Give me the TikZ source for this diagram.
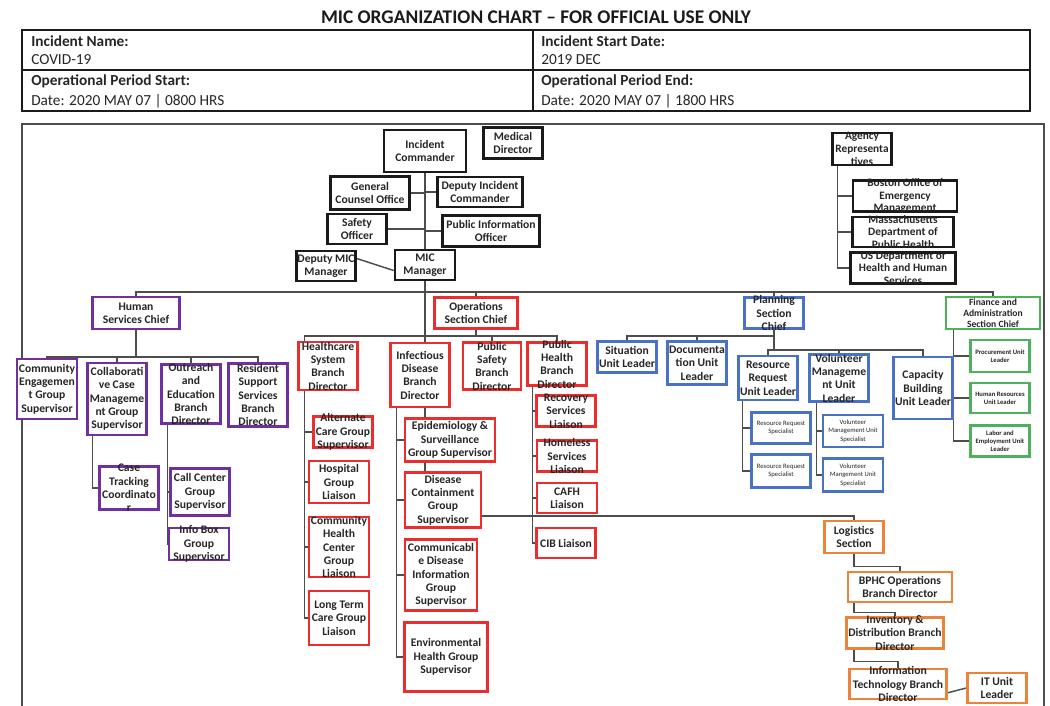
\documentclass[tikz,border=0pt]{standalone}
\usepackage{fontspec}
\setmainfont{Carlito}
\usetikzlibrary{calc,backgrounds}
\definecolor{cK}{HTML}{1A1A1A}
\definecolor{cP}{HTML}{7030A0}
\definecolor{cR}{HTML}{EC2D2D}
\definecolor{cB}{HTML}{4A72C4}
\definecolor{cG}{HTML}{4CB05C}
\definecolor{cO}{HTML}{E9843A}
\definecolor{cT}{HTML}{262626}
\definecolor{cL}{HTML}{4D4D4D}
\tikzset{
 obase/.style={rectangle, draw, line width=1.9pt, fill=white, inner sep=0pt},
 boxK/.style={obase, draw=cK},
 boxP/.style={obase, draw=cP},
 boxR/.style={obase, draw=cR},
 boxB/.style={obase, draw=cB},
 boxG/.style={obase, draw=cG},
 boxO/.style={obase, draw=cO},
 txt/.style={inner sep=0pt, align=center, text=cT, font=\fontsize{8.7}{10}\selectfont\bfseries},
 txtA/.style={txt, font=\fontsize{8.5}{9.6}\selectfont\bfseries},
 txtS/.style={txt, font=\fontsize{5}{6.2}\selectfont},
 txtSB/.style={txt, font=\fontsize{5}{6.2}\selectfont\bfseries},
 txtM/.style={txt, font=\fontsize{7.2}{8.3}\selectfont\bfseries},
 ln/.style={draw=cL, line width=1.1pt},
 hdr/.style={anchor=west, inner sep=0pt, text=cT, font=\fontsize{11.5}{13}\selectfont},
 hdrB/.style={hdr, font=\fontsize{11.5}{13}\selectfont\bfseries},
 tblline/.style={draw=cK, line width=1.3pt},
 frameline/.style={draw=cL, line width=0.8pt},
}
\newcommand\orgbox[8]{%
 \node[#1,minimum width=#6*0.75pt,minimum height=#7*0.75pt] (#3) at (#4,#5) {};%
 \node[#2] (#3-t) at (#3.center) {#8};}
\begin{document}
\begin{tikzpicture}[x=0.75pt,y=-0.75pt]
\useasboundingbox (0,0) rectangle (1050,706);
% title and header
\node[inner sep=0pt, text=cK, font=\fontsize{14.5}{16}\selectfont\bfseries] (title) at (536,17) {MIC ORGANIZATION CHART – FOR OFFICIAL USE ONLY};
\draw[tblline] (22,30) rectangle (1030,111);
\draw[tblline] (533,30) -- (533,111);
\draw[tblline] (22,70) -- (1030,70);
\node[hdrB] (h1) at (31,41) {Incident Name:};
\node[hdr] (h2) at (31,60) {COVID-19};
\node[hdrB] (h3) at (31,81) {Operational Period Start:};
\node[hdr] (h4) at (31,101) {Date: 2020 MAY 07 | 0800 HRS};
\node[hdrB] (h5) at (541,41) {Incident Start Date:};
\node[hdr] (h6) at (541,60) {2019 DEC};
\node[hdrB] (h7) at (541,81) {Operational Period End:};
\node[hdr] (h8) at (541,101) {Date: 2020 MAY 07 | 1800 HRS};
\draw[frameline] (22,706) -- (22,124) -- (1044,124) -- (1044,706);
% command
\orgbox{boxK}{txt}{ic}{425}{151}{82}{42}{Incident\\Commander}
\orgbox{boxK}{txt}{md}{513}{143}{59}{31}{Medical\\Director}
\orgbox{boxK}{txt}{gco}{370}{193}{79}{33}{General\\Counsel Office}
\orgbox{boxK}{txt}{dic}{480}{192}{85}{30}{Deputy Incident\\Commander}
\orgbox{boxK}{txt}{so}{357}{229}{59}{30}{Safety\\Officer}
\orgbox{boxK}{txt}{pio}{491}{231}{97}{31}{Public Information\\Officer}
\orgbox{boxK}{txt}{dmm}{326}{266}{59}{30}{Deputy MIC\\Manager}
\orgbox{boxK}{txt}{mic}{425}{265}{60}{30}{MIC\\Manager}
\orgbox{boxK}{txtA}{ar}{862}{149}{59}{32}{Agency\\Representa\\tives}
\orgbox{boxK}{txtA}{boem}{905}{196}{104}{31}{Boston Office of\\Emergency\\Management}
\orgbox{boxK}{txtA}{mdph}{903}{232}{101}{30}{Massachusetts\\Department of\\Public Health}
\orgbox{boxK}{txtA}{ushhs}{903}{268}{105}{31}{US Department of\\Health and Human\\Services}
% human services
\orgbox{boxP}{txt}{hsc}{136}{313}{87}{32}{Human\\Services Chief}
\orgbox{boxP}{txt}{cegs}{47}{389}{60}{60}{Community\\Engagemen\\t Group\\Supervisor}
\orgbox{boxP}{txt}{ccmgs}{117}{399}{59}{72}{Collaborati\\ve Case\\Manageme\\nt Group\\Supervisor}
\orgbox{boxP}{txt}{oebd}{191}{394}{59}{59}{Outreach\\and\\Education\\Branch\\Director}
\orgbox{boxP}{txt}{rssbd}{258}{395}{59}{63}{Resident\\Support\\Services\\Branch\\Director}
\orgbox{boxP}{txt}{ctc}{129}{488}{59}{43}{Case\\Tracking\\Coordinato\\r}
\orgbox{boxP}{txt}{ccgs}{200}{492}{59}{47}{Call Center\\Group\\Supervisor}
\orgbox{boxP}{txt}{ibgs}{199}{544}{60}{32}{Info Box\\Group\\Supervisor}
% operations
\orgbox{boxR}{txt}{ops}{476}{313}{83}{31}{Operations\\Section Chief}
\orgbox{boxR}{txt}{hsbd}{328}{366}{59}{48}{Healthcare\\System\\Branch\\Director}
\orgbox{boxR}{txt}{idbd}{420}{375}{59}{64}{Infectious\\Disease\\Branch\\Director}
\orgbox{boxR}{txt}{psbd}{492}{366}{58}{47}{Public\\Safety\\Branch\\Director}
\orgbox{boxR}{txt}{phbd}{557}{364}{59}{43}{Public\\Health\\Branch\\Director}
\orgbox{boxR}{txt}{acg}{343}{432}{59}{31}{Alternate\\Care Group\\Supervisor}
\orgbox{boxR}{txt}{hgl}{339}{482}{60}{42}{Hospital\\Group\\Liaison}
\orgbox{boxR}{txt}{chc}{339}{547}{60}{60}{Community\\Health\\Center\\Group\\Liaison}
\orgbox{boxR}{txt}{ltc}{339}{618}{60}{54}{Long Term\\Care Group\\Liaison}
\orgbox{boxR}{txt}{epi}{450}{440}{90}{43}{Epidemiology \&\\Surveillance\\Group Supervisor}
\orgbox{boxR}{txt}{dcgs}{443}{500}{76}{55}{Disease\\Containment\\Group\\Supervisor}
\orgbox{boxR}{txt}{cdigs}{441}{575}{72}{71}{Communicabl\\e Disease\\Information\\Group\\Supervisor}
\orgbox{boxR}{txt}{ehgs}{446}{657}{83}{69}{Environmental\\Health Group\\Supervisor}
\orgbox{boxR}{txt}{rsl}{566}{411}{59}{31}{Recovery\\Services\\Liaison}
\orgbox{boxR}{txt}{hsl}{567}{456}{60}{31}{Homeless\\Services\\Liaison}
\orgbox{boxR}{txt}{cafh}{567}{498}{60}{30}{CAFH\\Liaison}
\orgbox{boxR}{txt}{cib}{566}{543}{59}{30}{CIB Liaison}
% planning
\orgbox{boxB}{txt}{psc}{774}{313}{59}{31}{Planning\\Section\\Chief}
\orgbox{boxB}{txt}{sul}{627}{357}{59}{31}{Situation\\Unit Leader}
\orgbox{boxB}{txt}{dul}{697}{363}{59}{43}{Documenta\\tion Unit\\Leader}
\orgbox{boxB}{txt}{rrul}{768}{378}{59}{44}{Resource\\Request\\Unit Leader}
\orgbox{boxB}{txt}{vmul}{839}{378}{59}{47}{Volunteer\\Manageme\\nt Unit\\Leader}
\orgbox{boxB}{txt}{cbul}{923}{388}{59}{62}{Capacity\\Building\\Unit Leader}
\orgbox{boxB}{txtS}{rrs1}{781}{428}{59}{31}{Resource Request\\Specialist}
\orgbox{boxB}{txtS}{rrs2}{781}{471}{59}{33}{Resource Request\\Specialist}
\orgbox{boxB}{txtS}{vms1}{853}{431}{60}{32}{Volunteer\\Management Unit\\Specialist}
\orgbox{boxB}{txtS}{vms2}{853}{475}{60}{33}{Volunteer\\Mangement Unit\\Specialist}
% finance
\orgbox{boxG}{txtM}{fin}{993}{313}{94}{32}{Finance and\\Administration\\Section Chief}
\orgbox{boxG}{txtSB}{pul}{1000}{356}{59}{32}{Procurement Unit\\Leader}
\orgbox{boxG}{txtSB}{hrul}{1000}{398}{59}{30}{Human Resources\\Unit Leader}
\orgbox{boxG}{txtSB}{leul}{1000}{441}{59}{31}{Labor and\\Employment Unit\\Leader}
% logistics
\orgbox{boxO}{txt}{log}{854}{537}{59}{32}{Logistics\\Section}
\orgbox{boxO}{txt}{bphc}{900}{587}{104}{30}{BPHC Operations\\Branch Director}
\orgbox{boxO}{txt}{inv}{895}{633}{97}{31}{Inventory \&\\Distribution Branch\\Director}
\orgbox{boxO}{txt}{itbd}{898}{684}{97}{30}{Information\\Technology Branch\\Director}
\orgbox{boxO}{txt}{itul}{997}{688}{59}{30}{IT Unit\\Leader}
% connectors
\begin{scope}[on background layer]
\coordinate (busL) at (136,292);
\draw[ln] (ic.south) -- (mic.north);
\draw[ln] (gco.east) -- (gco.east -| ic.south);
\draw[ln] (dic.west) -- (dic.west -| ic.south);
\draw[ln] (so.east) -- (so.east -| ic.south);
\draw[ln] (pio.west) -- (pio.west -| ic.south);
\draw[ln] ($(dmm.north east)!0.27!(dmm.south east)$) -- ($(mic.north west)!0.67!(mic.south west)$);
\draw[ln] (hsc.north) |- (fin.north |- busL) -- (fin.north);
\draw[ln] (mic.south) -- (mic.south |- idbd.north);
\draw[ln] (ops.north) -- (ops.north |- busL);
\draw[ln] (psc.north) -- (psc.north |- busL);
% operations
\coordinate (opsbus) at (476,336);
\coordinate (hsx) at ($(hsbd.north west)+(7,0)$);
\draw[ln] (ops.south) -- (ops.south |- opsbus);
\draw[ln] (hsx) |- (phbd.north |- opsbus) -- (phbd.north);
\draw[ln] (psbd.north) -- (psbd.north |- opsbus);
\coordinate (hssp) at ($(hsbd.south west)+(7,0)$);
\draw[ln] (hssp) |- (ltc.west);
\draw[ln] (acg.west) -- (acg.west -| hssp);
\draw[ln] (hgl.west) -- (hgl.west -| hssp);
\draw[ln] (chc.west) -- (chc.west -| hssp);
\coordinate (idsp) at ($(idbd.south west)+(7,0)$);
\draw[ln] (idsp) |- (ehgs.west);
\draw[ln] (epi.west) -- (epi.west -| idsp);
\draw[ln] (dcgs.west) -- (dcgs.west -| idsp);
\draw[ln] (cdigs.west) -- (cdigs.west -| idsp);
\draw[ln] (idbd.south -| mic.south) -- (epi.north -| mic.south);
\draw[ln] (epi.south -| mic.south) -- (dcgs.north -| mic.south);
\coordinate (phsp) at ($(phbd.south west)+(6,0)$);
\draw[ln] (phsp) |- (cib.west);
\draw[ln] (rsl.west) -- (rsl.west -| phsp);
\draw[ln] (hsl.west) -- (hsl.west -| phsp);
\draw[ln] (cafh.west) -- (cafh.west -| phsp);
\draw[ln] ($(dcgs.north east)!0.78!(dcgs.south east)$) -| (log.north);
% logistics
\draw[ln] (log.south) |- ($(bphc.north)+(0,-4)$) -- (bphc.north);
\draw[ln] (bphc.south -| log.south) |- ($(inv.north)+(0,-4)$) -- (inv.north);
\draw[ln] (inv.south -| log.south) |- ($(itbd.north)+(0,-6)$) -- (itbd.north);
\draw[ln] ($(itbd.north east)!0.77!(itbd.south east)$) -- (itul.west);
% human services
\coordinate (hsbus) at (136,357);
\draw[ln] (hsc.south) -- (hsc.south |- hsbus);
\draw[ln] (cegs.north) |- (rssbd.north |- hsbus) -- (rssbd.north);
\draw[ln] (ccmgs.north) -- (ccmgs.north |- hsbus);
\draw[ln] (oebd.north) -- (oebd.north |- hsbus);
\coordinate (ccsp) at ($(ccmgs.south west)+(6,0)$);
\draw[ln] (ccsp) |- (ctc.west);
\coordinate (oesp) at ($(oebd.south west)+(7,0)$);
\draw[ln] (oesp) |- (ibgs.west);
\draw[ln] (ccgs.west) -- (ccgs.west -| oesp);
% agency
\coordinate (arsp) at ($(ar.south west)+(6,0)$);
\draw[ln] (arsp) |- (ushhs.west);
\draw[ln] (boem.west) -- (boem.west -| arsp);
\draw[ln] (mdph.west) -- (mdph.west -| arsp);
% planning
\coordinate (pb1) at (700,336);
\coordinate (pb2) at (800,350);
\draw[ln] (psc.south) -- (psc.south |- pb2);
\draw[ln] (sul.north) |- (psc.south |- pb1);
\draw[ln] (dul.north) -- (dul.north |- pb1);
\draw[ln] (rrul.north) |- (cbul.north |- pb2) -- (cbul.north);
\draw[ln] (vmul.north) -- (vmul.north |- pb2);
\coordinate (rrsp) at ($(rrul.south west)+(5,0)$);
\draw[ln] (rrsp) |- (rrs2.west);
\draw[ln] (rrs1.west) -- (rrs1.west -| rrsp);
\coordinate (vmsp) at ($(vmul.south west)+(8,0)$);
\draw[ln] (vmsp) |- (vms2.west);
\draw[ln] (vms1.west) -- (vms1.west -| vmsp);
% finance
\coordinate (fisp) at ($(fin.south west)+(9,0)$);
\draw[ln] (fisp) |- (leul.west);
\draw[ln] (pul.west) -- (pul.west -| fisp);
\draw[ln] (hrul.west) -- (hrul.west -| cbul.east);
\end{scope}
\end{tikzpicture}
\end{document}
